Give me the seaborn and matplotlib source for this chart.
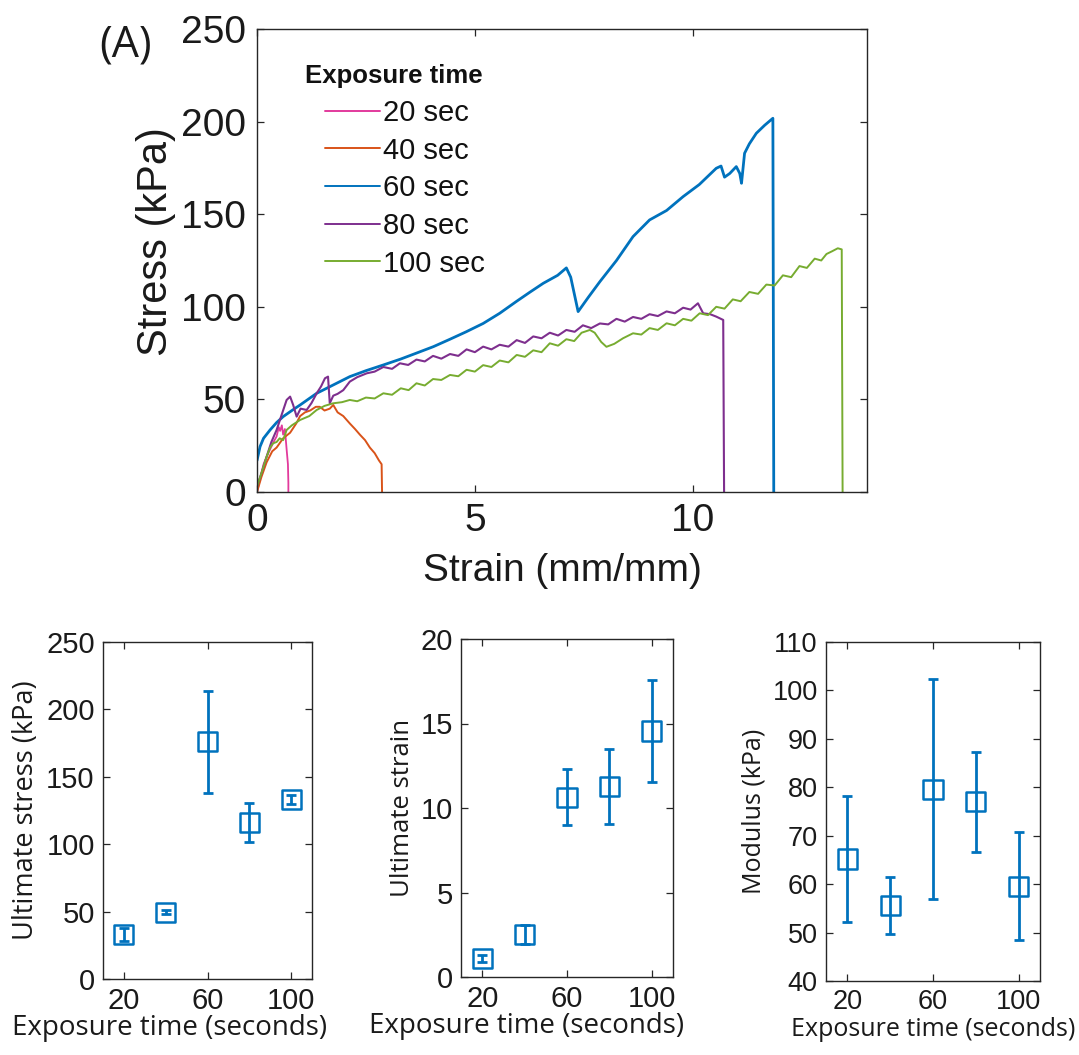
import matplotlib
matplotlib.use("Agg")
import matplotlib.pyplot as plt
from matplotlib.lines import Line2D
import seaborn as sns
import pandas as pd

# ---------------- data ----------------
labels = ["20 sec", "40 sec", "60 sec", "80 sec", "100 sec"]
colors = ["#e23a9c", "#d95319", "#0072bd", "#7e2f8e", "#77ac30"]

x20 = [0.0, 0.08, 0.15, 0.22, 0.30, 0.38, 0.45, 0.50, 0.53, 0.57, 0.60, 0.64, 0.68, 0.71, 0.72, 0.72]
y20 = [0, 8, 15, 19, 23, 27, 30, 35, 33, 36, 31, 34, 23, 15, 5, 0]

x40 = [0.0, 0.1, 0.22, 0.35, 0.45, 0.6, 0.76, 0.9, 0.99, 1.1, 1.22, 1.35, 1.44, 1.55, 1.67,
       1.75, 1.85, 1.98, 2.13, 2.25, 2.36, 2.48, 2.59, 2.7, 2.8, 2.86, 2.87]
y40 = [0, 8, 16, 22, 24, 29, 32, 37, 41, 43, 44, 46, 46, 44, 45, 47, 43, 41, 37, 34, 31, 28,
       24, 21, 17, 15, 0]

x60 = [0.0, 0.07, 0.15, 0.3, 0.45, 0.6, 0.8, 0.99, 1.37, 1.75, 2.13, 2.5, 2.9, 3.3, 3.66, 4.05,
       4.43, 4.8, 5.19, 5.57, 5.96, 6.27, 6.57, 6.9, 7.1, 7.2, 7.37, 7.6, 7.87, 8.25, 8.63, 9.01,
       9.4, 9.78, 10.15, 10.54, 10.65, 10.73, 10.85, 11.0, 11.08, 11.12, 11.19, 11.3, 11.46,
       11.65, 11.84, 11.86]
y60 = [17, 24.5, 29, 33.5, 37.5, 40.7, 44, 47, 53.3, 57.8, 62.3, 65.5, 68.6, 71.8, 75, 78.5,
       82.5, 86.5, 91, 96.5, 103, 108, 112.7, 117, 121, 116, 97.4, 105, 113.6, 125, 137.9,
       146.9, 152, 159.5, 166, 174.8, 176, 170, 172, 175.7, 172, 166.7, 182.9, 188, 193.7, 198,
       201.8, 0]

x80 = [0.0, 0.1, 0.22, 0.33, 0.45, 0.57, 0.68, 0.76, 0.83, 0.91, 1.0, 1.14, 1.25, 1.37, 1.47,
       1.56, 1.63, 1.67, 1.75, 1.85, 1.98, 2.13, 2.3, 2.52, 2.7, 2.9, 3.1, 3.28, 3.47, 3.66,
       3.85, 4.04, 4.23, 4.43, 4.62, 4.81, 5.0, 5.19, 5.38, 5.57, 5.77, 5.96, 6.15, 6.34, 6.53,
       6.72, 6.91, 7.1, 7.29, 7.48, 7.67, 7.87, 8.06, 8.25, 8.44, 8.63, 8.82, 9.01, 9.2, 9.4,
       9.59, 9.78, 9.95, 10.12, 10.24, 10.4, 10.54, 10.7, 10.72]
y80 = [3, 10, 19, 27, 33.5, 42, 49.7, 51.5, 47, 40.7, 45, 44.3, 48, 53.3, 57, 61.4, 62.3, 47.9,
       52, 53, 55, 59.6, 62, 64.1, 65, 67.5, 66.5, 69.5, 68.6, 71.5, 70.5, 73.5, 72, 74.5, 73.5,
       77, 75.5, 78.5, 77, 79.5, 78.5, 82, 80.5, 84, 83, 86, 84.5, 87.5, 86.5, 90, 88.5, 91,
       90.5, 93.5, 92, 94.5, 93.5, 96, 95, 97.5, 96.5, 99.5, 98.5, 101.9, 96.5, 96, 94.7, 92.9, 0]

x100 = [0.0, 0.1, 0.22, 0.3, 0.37, 0.45, 0.52, 0.6, 0.68, 0.8, 0.99, 1.2, 1.37, 1.55, 1.75,
        1.95, 2.13, 2.3, 2.5, 2.7, 2.9, 3.1, 3.3, 3.48, 3.66, 3.85, 4.04, 4.23, 4.43, 4.62,
        4.81, 5.0, 5.19, 5.38, 5.57, 5.77, 5.96, 6.15, 6.34, 6.53, 6.72, 6.91, 7.1, 7.28, 7.45,
        7.64, 7.75, 7.9, 8.02, 8.2, 8.4, 8.63, 8.82, 9.01, 9.2, 9.4, 9.59, 9.78, 9.97, 10.16,
        10.35, 10.54, 10.73, 10.92, 11.1, 11.3, 11.5, 11.69, 11.88, 12.07, 12.26, 12.45, 12.62,
        12.8, 12.95, 13.07, 13.2, 13.33, 13.42, 13.44]
y100 = [3, 10, 19, 24, 26.3, 27, 29, 28, 33.5, 36, 38.9, 41, 44.3, 46.5, 47.9, 48.5, 49.7,
        49, 51, 50.5, 53.3, 52.5, 56, 55, 58.7, 57.5, 61, 60.5, 63.2, 62.5, 66, 65, 68.5, 67.5,
        71, 70, 74, 73, 76.5, 75.5, 80.3, 79, 82.5, 81.5, 86, 87.5, 86, 81, 78.4, 80, 83, 85.7,
        85, 88.5, 87.5, 91.1, 90, 93.5, 92.5, 96.5, 95.5, 100, 99, 104, 103, 108, 107, 112,
        111.5, 117, 116, 122, 121, 126, 125, 128.5, 130, 131.6, 131, 0]

exposure = [20, 40, 60, 80, 100]
stress_mean = [33, 49.5, 176, 116, 133]
stress_err = [5, 1.5, 38, 14.5, 3.5]
strain_mean = [1.08, 2.5, 10.64, 11.27, 14.56]
strain_err = [0.2, 0.55, 1.65, 2.2, 3.0]
modulus_mean = [65.2, 55.6, 79.6, 77.0, 59.6]
modulus_err = [13.1, 5.8, 22.7, 10.3, 11.2]

# ---------------- style ----------------
sns.set_theme(style="white")
plt.rcParams["font.family"] = ["Liberation Sans", "DejaVu Sans"]
EDGE = "#262626"
BLUE = "#0072bd"
OPEN = ["Open Sans", "DejaVu Sans"]

W, H = 1079, 1055
fig = plt.figure(figsize=(W / 100, H / 100), dpi=100)


def rect(l, t, r, b):
    return [l / W, 1 - b / H, (r - l) / W, (b - t) / H]


def style_axes(ax, fs, pad=6):
    for s in ax.spines.values():
        s.set_visible(True)
        s.set_color(EDGE)
        s.set_linewidth(1.0)
    ax.tick_params(direction="in", length=5, width=0.9, colors=EDGE,
                   labelcolor="#1a1a1a", labelsize=fs, top=True, right=True,
                   bottom=True, left=True, pad=pad)
    ax.grid(False)


# ---------------- main panel ----------------
ax = fig.add_axes(rect(257, 29, 867, 492))
series = [(x20, y20), (x40, y40), (x60, y60), (x80, y80), (x100, y100)]
widths = [1.3, 1.4, 2.0, 1.5, 1.4]
for (xs, ys), lab, c, lw in zip(series, labels, colors, widths):
    df = pd.DataFrame({"strain": xs, "stress": ys})
    sns.lineplot(data=df, x="strain", y="stress", sort=False, estimator=None,
                 color=c, lw=lw, ax=ax)
ax.set_xlim(0, 14)
ax.set_ylim(0, 250)
ax.set_xticks([0, 5, 10])
ax.set_yticks([0, 50, 100, 150, 200, 250])
style_axes(ax, 28, pad=8)
ax.set_xlabel("Strain (mm/mm)", fontsize=28, color="#1a1a1a", labelpad=10)
ax.set_ylabel("Stress (kPa)", fontsize=30, color="#1a1a1a")
ax.yaxis.set_label_coords(-0.132, 0.54)

handles = [Line2D([0], [0], color=c, lw=1.4) for c in colors]
leg = ax.legend(handles, labels, loc="upper left", bbox_to_anchor=(325 / W, 1 - 99 / H),
                bbox_transform=fig.transFigure, frameon=False, fontsize=21,
                handlelength=1.9, handletextpad=0.1, labelspacing=0.33,
                borderpad=0, borderaxespad=0)
for t in leg.get_texts():
    t.set_color("#111111")
fig.text(305 / W, 1 - 76 / H, "Exposure time", fontsize=18.5, fontweight="bold",
         ha="left", va="center", color="#111111")
fig.text(99 / W, 1 - 45 / H, "(A)", fontsize=31, ha="left", va="center",
         family=OPEN, color="#1a1a1a")

# ---------------- bottom panels ----------------
panels = [
    (rect(103, 642, 312, 979), stress_mean, stress_err, (0, 250), [0, 50, 100, 150, 200, 250],
     "Ultimate stress (kPa)", 21, 20, 19.5, 0.32),
    (rect(461, 639, 673, 977), strain_mean, strain_err, (0, 20), [0, 5, 10, 15, 20],
     "Ultimate strain", 21, 20, 18.5, 0.31),
    (rect(826, 642, 1040, 981), modulus_mean, modulus_err, (40, 110),
     [40, 50, 60, 70, 80, 90, 100, 110], "Modulus (kPa)", 19.5, 18, 18, 0.5),
]
for pos, mean, err, ylim, yt, ylab, tfs, xlfs, ylfs, xlx in panels:
    a = fig.add_axes(pos)
    a.errorbar(exposure, mean, yerr=err, fmt="none", ecolor=BLUE, elinewidth=2.0,
               capsize=3.5, capthick=2.0, zorder=2)
    d = pd.DataFrame({"t": exposure, "v": mean})
    sns.scatterplot(data=d, x="t", y="v", marker="s", s=190, facecolor="none",
                    edgecolor=BLUE, linewidth=1.8, ax=a, zorder=3)
    a.set_xlim(10, 110)
    a.set_ylim(*ylim)
    a.set_xticks([20, 60, 100])
    a.set_yticks(yt)
    style_axes(a, tfs)
    a.set_xlabel("Exposure time (seconds)", fontsize=xlfs, family=OPEN, color="#1a1a1a")
    a.xaxis.set_label_coords(xlx, -0.105)
    a.set_ylabel(ylab, fontsize=ylfs, family=OPEN, color="#1a1a1a", labelpad=4)

fig.savefig("out.png", dpi=100)
